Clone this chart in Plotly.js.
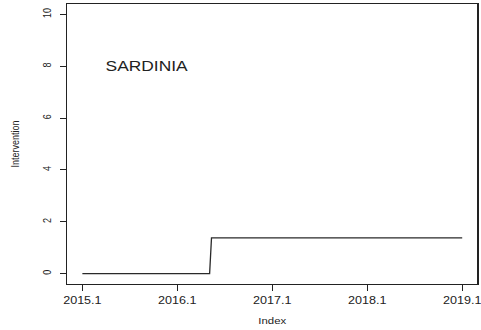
<!DOCTYPE html>
<html>
<head>
<meta charset="utf-8">
<script src="https://cdn.plot.ly/plotly-3.0.1.min.js"></script>
<style>
  html, body { margin: 0; padding: 0; background: #fff; overflow: hidden; width: 481px; height: 330px; }
  /* the figure is laid out 401px wide and widened to fill 481px */
  #chart { width: 401px; height: 330px; transform: scaleX(1.1995); transform-origin: 0 0; }
</style>
</head>
<body>
<div id="chart"></div>
<script>
// Intervention step series for Sardinia
var indexValues = [2015.1, 2016.44, 2016.46, 2019.1];
var interventionValues = [0, 0, 1.38, 1.38];
var xTickValues = [2015.1, 2016.1, 2017.1, 2018.1, 2019.1];
var xTickLabels = ['2015.1', '2016.1', '2017.1', '2018.1', '2019.1'];
var yTickValues = [0, 2, 4, 6, 8, 10];
var regionLabel = 'SARDINIA';

var ink = '#222222';
var family = 'Liberation Sans, Arial, sans-serif';

var trace = {
  x: indexValues,
  y: interventionValues,
  type: 'scatter',
  mode: 'lines',
  line: { color: '#2a2a2a', width: 1.1 },
  hoverinfo: 'skip'
};

var layout = {
  width: 401,
  height: 330,
  margin: { l: 56, r: 3, t: 4, b: 46 },
  paper_bgcolor: '#ffffff',
  plot_bgcolor: '#ffffff',
  showlegend: false,
  font: { family: family, color: ink },
  xaxis: {
    range: [2014.94, 2019.26],
    tickvals: xTickValues,
    ticktext: xTickLabels,
    ticks: 'outside',
    ticklen: 6,
    tickcolor: ink,
    tickwidth: 1,
    ticklabeloverflow: 'allow',
    showgrid: false,
    zeroline: false,
    showline: true,
    mirror: true,
    linecolor: ink,
    linewidth: 1,
    tickfont: { family: family, size: 10.5, color: ink },
    title: { text: 'Index', font: { family: family, size: 9.5, color: ink }, standoff: 12 },
    automargin: false
  },
  yaxis: {
    range: [-0.4, 10.4],
    tickvals: yTickValues,
    ticks: 'outside',
    ticklen: 5,
    tickcolor: ink,
    tickwidth: 1,
    tickangle: -90,
    ticklabelstandoff: 4,
    showgrid: false,
    zeroline: false,
    showline: true,
    mirror: true,
    linecolor: ink,
    linewidth: 1,
    tickfont: { family: family, size: 9, color: ink },
    title: { text: 'Intervention', font: { family: family, size: 9, color: ink }, standoff: 16 },
    automargin: false
  },
  annotations: [{
    x: 2015.78,
    y: 8,
    xref: 'x',
    yref: 'y',
    text: regionLabel,
    showarrow: false,
    font: { family: family, size: 14.5, color: ink }
  }]
};

Plotly.newPlot('chart', [trace], layout, { displayModeBar: false, staticPlot: true });
</script>
</body>
</html>
